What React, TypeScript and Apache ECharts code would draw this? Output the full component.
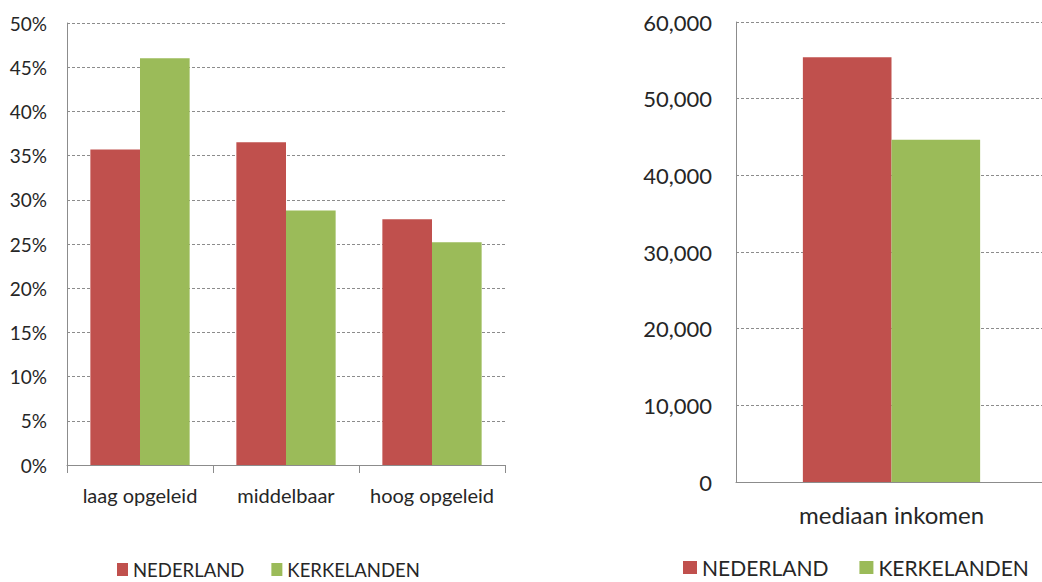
import React, { useEffect, useRef } from "react";
import * as echarts from "echarts";

// Education level shares (%)
const educationLevels = ["laag opgeleid", "middelbaar", "hoog opgeleid"];
const nederlandEducation = [35.7, 36.5, 27.8];
const kerkelandenEducation = [46.0, 28.8, 25.2];

// Median income
const incomeCategories = ["mediaan inkomen"];
const nederlandIncome = [55400];
const kerkelandenIncome = [44650];

const seriesNames = ["NEDERLAND", "KERKELANDEN"];
const RED = "#C0504D";
const GREEN = "#9BBB59";

const FONT = "Lato, 'Noto Sans', sans-serif";
const TEXT = "#262626";
const AXIS = "#8c8c8c";

const splitLine = {
  show: true,
  lineStyle: { color: "#8c8c8c", type: [3, 2] as any, width: 1 },
};

export default function App() {
  const ref = useRef<HTMLDivElement>(null);

  useEffect(() => {
    if (!ref.current) return;
    const chart = echarts.init(ref.current, null, { renderer: "svg" });
    chart.setOption({
      animation: false,
      backgroundColor: "#ffffff",
      legend: [
        {
          left: 117,
          top: 560,
          padding: 0,
          icon: "rect",
          itemWidth: 11,
          itemHeight: 13,
          itemGap: 27,
          textStyle: {
            fontFamily: FONT,
            fontSize: 18.5,
            lineHeight: 16,
            color: TEXT,
          },
          data: seriesNames,
        },
        {
          left: 683,
          top: 557,
          padding: 0,
          icon: "rect",
          itemWidth: 14,
          itemHeight: 13,
          itemGap: 31,
          textStyle: {
            fontFamily: FONT,
            fontSize: 21,
            lineHeight: 17,
            color: TEXT,
          },
          data: seriesNames,
        },
      ],
      grid: [
        { left: 67, top: 23, width: 438, height: 442 },
        { left: 736, top: 22, width: 311, height: 460 },
      ],
      xAxis: [
        {
          type: "category",
          gridIndex: 0,
          data: educationLevels,
          axisLine: { lineStyle: { color: AXIS } },
          axisTick: { show: true, length: 8, lineStyle: { color: AXIS } },
          axisLabel: {
            fontFamily: FONT,
            fontSize: 20,
            color: TEXT,
            margin: 20,
            interval: 0,
          },
        },
        {
          type: "category",
          gridIndex: 1,
          data: incomeCategories,
          axisLine: { lineStyle: { color: AXIS } },
          axisTick: { show: false },
          axisLabel: {
            fontFamily: FONT,
            fontSize: 24,
            color: TEXT,
            margin: 20,
            interval: 0,
          },
        },
      ],
      yAxis: [
        {
          type: "value",
          gridIndex: 0,
          min: 0,
          max: 50,
          interval: 5,
          axisLine: { show: true, lineStyle: { color: AXIS } },
          axisTick: { show: false },
          splitLine,
          axisLabel: {
            fontFamily: FONT,
            fontSize: 19,
            color: TEXT,
            margin: 20,
            formatter: (v: number) => `${v}%`,
          },
        },
        {
          type: "value",
          gridIndex: 1,
          min: 0,
          max: 60000,
          interval: 10000,
          axisLine: { show: true, lineStyle: { color: AXIS } },
          axisTick: { show: false },
          splitLine,
          axisLabel: {
            fontFamily: FONT,
            fontSize: 22,
            color: TEXT,
            margin: 24,
            formatter: (v: number) => v.toLocaleString("en-US"),
          },
        },
      ],
      series: [
        {
          name: seriesNames[0],
          type: "bar",
          xAxisIndex: 0,
          yAxisIndex: 0,
          data: nederlandEducation,
          itemStyle: { color: RED },
          barGap: "0%",
          barCategoryGap: "32%",
        },
        {
          name: seriesNames[1],
          type: "bar",
          xAxisIndex: 0,
          yAxisIndex: 0,
          data: kerkelandenEducation,
          itemStyle: { color: GREEN },
          barGap: "0%",
          barCategoryGap: "32%",
        },
        {
          name: seriesNames[0],
          type: "bar",
          xAxisIndex: 1,
          yAxisIndex: 1,
          data: nederlandIncome,
          itemStyle: { color: RED },
          barGap: "0%",
          barCategoryGap: "43%",
        },
        {
          name: seriesNames[1],
          type: "bar",
          xAxisIndex: 1,
          yAxisIndex: 1,
          data: kerkelandenIncome,
          itemStyle: { color: GREEN },
          barGap: "0%",
          barCategoryGap: "43%",
        },
      ],
    });
    return () => chart.dispose();
  }, []);

  // The plot on the right runs slightly past the visible edge, so the
  // chart surface is a bit wider than its clipping frame.
  return (
    <div
      style={{
        position: "fixed",
        left: 0,
        top: 0,
        width: 1042,
        height: 582,
        overflow: "hidden",
      }}
    >
      <div ref={ref} style={{ width: 1052, height: 582 }} />
    </div>
  );
}
